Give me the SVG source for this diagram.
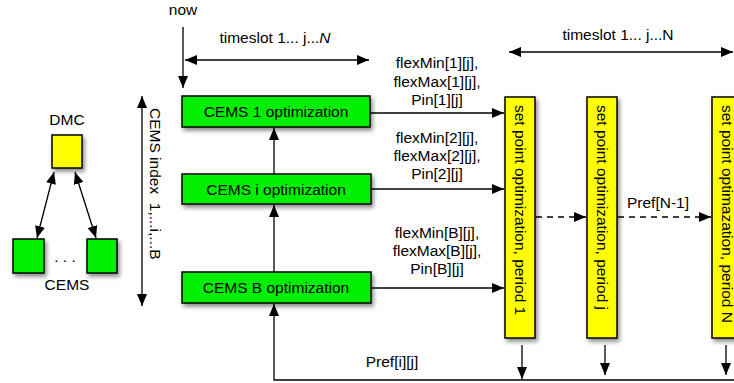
<svg xmlns="http://www.w3.org/2000/svg" width="734" height="383" viewBox="0 0 734 383">
<defs>
<style>
text{font-family:"Liberation Sans",Arial,sans-serif;font-size:15.5px;fill:#000}
.c{text-anchor:middle}
.g{fill:#00ee00;stroke:#000;stroke-width:1.5}
.y{fill:#ffff00;stroke:#000;stroke-width:1.5}
.l{fill:none;stroke:#000;stroke-width:1.3}
.d{fill:none;stroke:#000;stroke-width:1.3;stroke-dasharray:6,5}
</style>
<marker id="a" viewBox="0 0 12 10" refX="12" refY="5" markerWidth="12" markerHeight="10" markerUnits="userSpaceOnUse" orient="auto-start-reverse">
<path d="M0,0 L12,5 L0,10 z" fill="#000"/>
</marker>
<filter id="s" x="-20%" y="-20%" width="150%" height="150%">
<feDropShadow dx="2" dy="3" stdDeviation="2" flood-color="#000" flood-opacity="0.45"/>
</filter>
</defs>

<g id="connectors">
<line class="l" x1="183" y1="27" x2="183" y2="88" marker-end="url(#a)"/>
<line class="l" x1="185" y1="60" x2="369" y2="60" marker-start="url(#a)" marker-end="url(#a)"/>
<line class="l" x1="509" y1="52" x2="733" y2="52" marker-start="url(#a)" marker-end="url(#a)"/>
<line class="l" x1="142" y1="96" x2="142" y2="306" marker-start="url(#a)" marker-end="url(#a)"/>
<line class="l" x1="274" y1="174" x2="274" y2="128" marker-end="url(#a)"/>
<line class="l" x1="274" y1="272" x2="274" y2="205" marker-end="url(#a)"/>
<polyline class="l" points="734,380 274,380 274,304" marker-end="url(#a)"/>
<line class="l" x1="370" y1="113" x2="504" y2="113" marker-end="url(#a)"/>
<line class="l" x1="371" y1="189" x2="504" y2="189" marker-end="url(#a)"/>
<line class="l" x1="371" y1="288" x2="504" y2="288" marker-end="url(#a)"/>
<line class="d" x1="536" y1="217" x2="586" y2="217" marker-end="url(#a)"/>
<line class="d" x1="618" y1="217" x2="711" y2="217" marker-end="url(#a)"/>
<line class="l" x1="522" y1="345" x2="522" y2="379" marker-end="url(#a)"/>
<line class="l" x1="605" y1="345" x2="605" y2="375" marker-end="url(#a)"/>
<line class="l" x1="726" y1="345" x2="726" y2="375" marker-end="url(#a)"/>
<line class="l" x1="54" y1="172" x2="37" y2="238" marker-start="url(#a)" marker-end="url(#a)"/>
<line class="l" x1="75" y1="172" x2="96" y2="238" marker-start="url(#a)" marker-end="url(#a)"/>
</g>

<g id="labels">
<text class="c" x="183" y="15">now</text>
<text class="c" x="275" y="43">timeslot 1... j...<tspan font-style="italic">N</tspan></text>
<text class="c" x="618" y="40">timeslot 1... j...N</text>
<text x="155" y="108" transform="rotate(90 155 108)" dominant-baseline="central">CEMS index &#160;1,...i,...B</text>
<text class="c" x="437" y="68">flexMin[1][j],</text>
<text class="c" x="437" y="87">flexMax[1][j],</text>
<text class="c" x="437" y="105">Pin[1][j]</text>
<text class="c" x="437" y="143">flexMin[2][j],</text>
<text class="c" x="437" y="161">flexMax[2][j],</text>
<text class="c" x="437" y="179">Pin[2][j]</text>
<text class="c" x="437" y="238">flexMin[B][j],</text>
<text class="c" x="437" y="256">flexMax[B][j],</text>
<text class="c" x="437" y="274">Pin[B][j]</text>
<text class="c" x="658" y="208">Pref[N-1]</text>
<text class="c" x="392" y="367">Pref[i][j]</text>
</g>

<g id="dmc">
<rect class="y" x="52" y="135" width="30" height="33" filter="url(#s)"/>
<text class="c" x="67" y="125">DMC</text>
</g>
<g id="cems-left">
<rect class="g" x="13" y="239" width="31" height="34" filter="url(#s)"/>
</g>
<g id="cems-right">
<rect class="g" x="87" y="239" width="30" height="34" filter="url(#s)"/>
<text class="c" x="65" y="262">. . .</text>
<text class="c" x="67" y="290">CEMS</text>
</g>

<g id="cems1">
<rect class="g" x="182" y="96" width="188" height="31" filter="url(#s)"/>
<text class="c" x="276" y="117">CEMS 1 optimization</text>
</g>
<g id="cemsi">
<rect class="g" x="182" y="174" width="189" height="30" filter="url(#s)"/>
<text class="c" x="276" y="195">CEMS i optimization</text>
</g>
<g id="cemsB">
<rect class="g" x="182" y="272" width="189" height="31" filter="url(#s)"/>
<text class="c" x="276" y="293">CEMS B optimization</text>
</g>

<g id="sp1">
<rect class="y" x="505" y="97" width="30" height="241" filter="url(#s)"/>
<text x="520" y="105" transform="rotate(90 520 105)" dominant-baseline="central">set point optimization, period 1</text>
</g>
<g id="spj">
<rect class="y" x="587" y="97" width="30" height="241" filter="url(#s)"/>
<text x="602" y="105" transform="rotate(90 602 105)" dominant-baseline="central">set point optimization, period j</text>
</g>
<g id="spN">
<rect class="y" x="712" y="97" width="30" height="241" filter="url(#s)"/>
<text x="727" y="105" transform="rotate(90 727 105)" dominant-baseline="central">set point optimazation, period N</text>
</g>
</svg>
